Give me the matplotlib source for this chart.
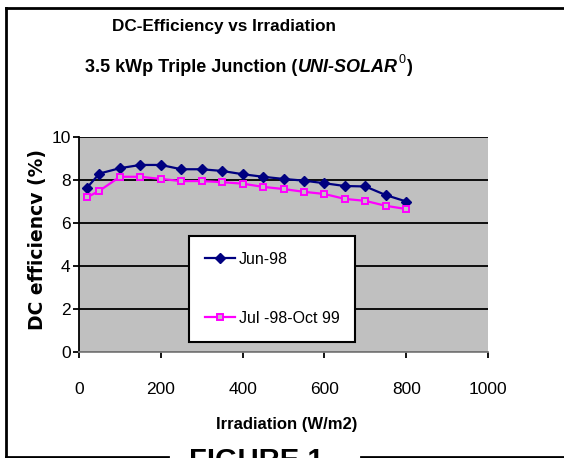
import matplotlib
matplotlib.use("Agg")
import matplotlib.pyplot as plt
from matplotlib.lines import Line2D

plt.rcParams['font.family'] = ['Liberation Sans', 'DejaVu Sans']

irradiation = [20, 50, 100, 150, 200, 250, 300, 350, 400, 450, 500, 550, 600, 650, 700, 750, 800]
eff_jun98 = [7.65, 8.3, 8.55, 8.7, 8.7, 8.5, 8.5, 8.42, 8.27, 8.15, 8.05, 7.97, 7.85, 7.72, 7.7, 7.3, 7.0]
eff_jul98_oct99 = [7.2, 7.5, 8.15, 8.15, 8.05, 7.95, 7.95, 7.9, 7.83, 7.68, 7.58, 7.45, 7.35, 7.12, 7.03, 6.8, 6.65]
series_labels = ["Jun-98", "Jul -98-Oct 99"]
x_ticks = [0, 200, 400, 600, 800, 1000]
y_ticks = [0, 2, 4, 6, 8, 10]

W, H = 564, 458
fig = plt.figure(figsize=(W / 100, H / 100), dpi=100)
fig.patch.set_facecolor('white')

def fx(px):
    return px / W

def fy(py):
    return 1 - py / H

AX_L, AX_R, AX_T, AX_B = 79, 488, 137, 352
ax = fig.add_axes([fx(AX_L), fy(AX_B), fx(AX_R) - fx(AX_L), fy(AX_T) - fy(AX_B)])
ax.set_facecolor('#C0C0C0')
ax.set_xlim(0, 1000)
ax.set_ylim(0, 10)
ax.set_xticks(x_ticks)
ax.set_yticks(y_ticks)
ax.yaxis.grid(True, color='black', linewidth=1.3)
ax.set_axisbelow(True)
for s in ['top', 'right']:
    ax.spines[s].set_visible(False)
ax.spines['left'].set_color('black')
ax.spines['left'].set_linewidth(1.3)
ax.spines['bottom'].set_color('#808080')
ax.spines['bottom'].set_linewidth(1.3)
ax.tick_params(axis='both', direction='out', length=4, width=1.3, color='black', labelsize=12.5)
ax.tick_params(axis='y', pad=2)
ax.tick_params(axis='x', pad=17.5)

ax.plot(irradiation, eff_jun98, color='#000080', linewidth=1.6, marker='D', markersize=5,
        markerfacecolor='#000080', markeredgecolor='#000080', label=series_labels[0], zorder=3)
ax.plot(irradiation, eff_jul98_oct99, color='#FF00FF', linewidth=1.6, marker='s', markersize=5,
        markerfacecolor='#C0C0C0', markeredgecolor='#FF00FF', markeredgewidth=1.4,
        label=series_labels[1], zorder=3)

leg = ax.legend(loc='upper left',
                bbox_to_anchor=((189 - AX_L) / (AX_R - AX_L), (AX_B - 236) / (AX_B - AX_T)),
                frameon=True, fancybox=False, edgecolor='black', facecolor='white', framealpha=1,
                fontsize=11.5, handlelength=1.9, handletextpad=0.2, labelspacing=2.75,
                borderpad=1.0, borderaxespad=0)
leg.get_frame().set_linewidth(1.5)

ax.set_xlabel("Irradiation (W/m2)", fontsize=12, fontweight='bold', va='center', ha='center')
ax.xaxis.set_label_coords((287 - AX_L) / (AX_R - AX_L), (AX_B - 424) / (AX_B - AX_T))
ax.set_ylabel("DC efficiencv (%)", fontsize=13.5, fontweight='bold', family=['DejaVu Sans'],
              va='center', ha='center')
ax.yaxis.set_label_coords((38 - AX_L) / (AX_R - AX_L), (AX_B - 240) / (AX_B - AX_T))

fig.text(fx(224), fy(26), "DC-Efficiency vs Irradiation", fontsize=12.3, fontweight='bold',
         ha='center', va='center')

# second title line assembled from styled pieces
renderer = fig.canvas.get_renderer()
pieces = [
    ("3.5 kWp Triple Junction (", dict(fontweight='bold', fontstyle='normal', fontsize=13), 0),
    ("UNI-SOLAR", dict(fontweight='bold', fontstyle='italic', fontsize=13), 0),
    ("0", dict(fontweight='normal', fontstyle='normal', fontsize=9), 8),
    (")", dict(fontweight='bold', fontstyle='normal', fontsize=13), 0),
]
x_cur = 0.0
objs = []
for txt, kw, rise in pieces:
    t = fig.text(fx(x_cur), fy(68 - rise), txt, ha='left', va='center', **kw)
    objs.append(t)
    x_cur += t.get_window_extent(renderer).width + 0.5
start = 249 - x_cur / 2
x_cur = start
for t in objs:
    t.set_x(fx(x_cur))
    x_cur += t.get_window_extent(renderer).width + 0.5

fig.text(fx(256), fy(447), "FIGURE 1", fontsize=21, fontweight='bold', ha='center', va='top')

lw = 2.0
fig.add_artist(Line2D([fx(6), fx(6)], [fy(8), fy(457)], color='black', linewidth=lw))
fig.add_artist(Line2D([fx(6), fx(564)], [fy(8), fy(8)], color='black', linewidth=lw))
fig.add_artist(Line2D([fx(6), fx(168)], [fy(456.5), fy(456.5)], color='black', linewidth=lw))
fig.add_artist(Line2D([fx(361), fx(564)], [fy(456.5), fy(456.5)], color='black', linewidth=lw))

fig.savefig("out.png", dpi=100)
